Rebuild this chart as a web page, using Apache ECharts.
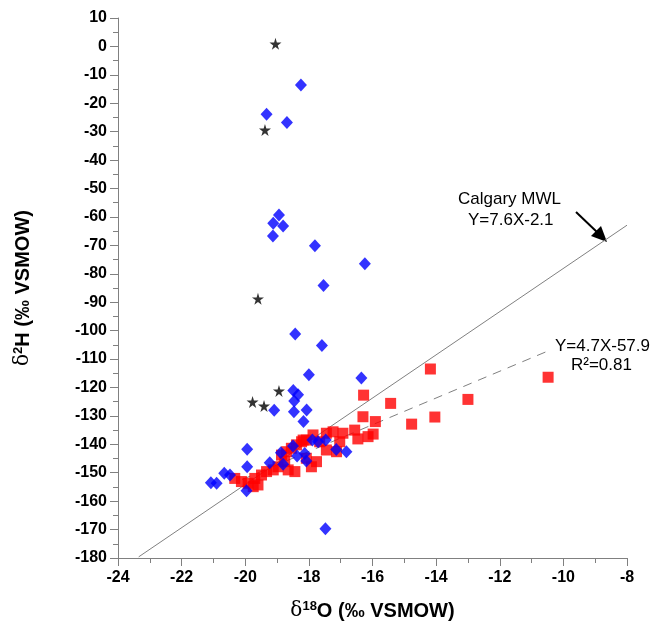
<!DOCTYPE html>
<html>
<head>
<meta charset="utf-8">
<script src="https://cdn.jsdelivr.net/npm/echarts@6/dist/echarts.min.js"></script>
<style>
  html, body { margin: 0; padding: 0; background: #fff; }
  #main { width: 650px; height: 629px; }
</style>
</head>
<body>
<div id="main"></div>
<script>
// datos: [d18O, d2H]
var snowStars = [
  [-19.05, 0.9], [-19.38, -29.4], [-19.60, -88.8], [-18.94, -121.2],
  [-19.77, -125.1], [-19.41, -126.5]
];

var blueDiamonds = [
  [-18.25, -13.6], [-19.33, -23.9], [-18.69, -26.8], [-18.94, -59.3],
  [-19.12, -62.2], [-18.81, -63.2], [-19.13, -66.7], [-17.81, -70.1],
  [-16.24, -76.5], [-17.54, -84.1], [-18.43, -101.2], [-17.59, -105.2],
  [-18.0, -115.5], [-16.35, -116.7], [-18.49, -121.1], [-18.34, -122.6],
  [-18.46, -124.8], [-19.09, -128.0], [-18.47, -128.5], [-18.07, -127.9],
  [-18.17, -132.0], [-19.94, -141.7], [-19.94, -147.9], [-21.08, -153.5],
  [-20.90, -153.7], [-20.66, -150.2], [-20.48, -150.8], [-19.96, -156.3],
  [-19.23, -146.5], [-18.88, -143.0], [-18.81, -147.0], [-18.50, -140.6],
  [-18.37, -144.1], [-18.08, -145.9], [-18.13, -143.2], [-17.89, -138.5],
  [-17.71, -139.1], [-17.47, -138.5], [-17.14, -141.8], [-16.82, -142.6],
  [-17.48, -169.7]
];

var redSquares = [
  [-16.28, -122.7], [-16.30, -130.3], [-15.91, -132.0], [-14.18, -113.5],
  [-15.43, -125.6], [-13.0, -124.2], [-10.48, -116.4], [-14.77, -132.9],
  [-14.04, -130.4], [-15.98, -136.4], [-20.33, -152.0], [-20.12, -153.1],
  [-19.91, -153.7], [-19.75, -154.9], [-19.70, -152.0], [-19.49, -150.8],
  [-19.33, -149.6], [-19.12, -149.0], [-18.97, -147.9], [-18.86, -143.8],
  [-18.70, -142.6], [-18.55, -141.4], [-18.39, -140.2], [-18.23, -139.1],
  [-18.08, -138.5], [-18.65, -149.0], [-18.44, -149.6], [-19.60, -154.3],
  [-18.76, -146.1], [-16.56, -135.0], [-16.14, -137.3], [-16.46, -138.1],
  [-16.93, -136.1], [-17.24, -135.6], [-17.45, -136.1], [-17.03, -139.1],
  [-17.13, -142.6], [-17.45, -142.0], [-17.76, -146.1], [-17.92, -147.9],
  [-18.08, -144.9], [-17.66, -139.1], [-17.87, -136.7], [-18.18, -138.5]
];

// extremos de las rectas
var mwlLine = [[-23.35, -179.6], [-8, -62.9]];
var fitLine = [[-20.1, -152.4], [-10.45, -107.0]];

var xTicks = [-24, -22, -20, -18, -16, -14, -12, -10, -8];
var yTicks = [10, 0, -10, -20, -30, -40, -50, -60, -70, -80, -90, -100,
  -110, -120, -130, -140, -150, -160, -170, -180];

var chartDom = document.getElementById('main');
var myChart = echarts.init(chartDom);
var option;

var starPath = 'path://M50,0 L61,35 L98,35 L68,57 L79,91 L50,70 L21,91 L32,57 L2,35 L39,35 Z';
var axisGray = '#808080';

var nameRich = {
  d: { fontFamily: 'DejaVu Serif', fontSize: 20, fontWeight: 'normal', color: '#000' },
  s: { fontFamily: 'Liberation Sans', fontSize: 13, fontWeight: 'bold', color: '#000', verticalAlign: 'top', lineHeight: 22 },
  b: { fontFamily: 'Liberation Sans', fontSize: 20, fontWeight: 'bold', color: '#000' }
};

option = {
  animation: false,
  backgroundColor: '#fff',
  grid: { left: 118, right: 23, top: 18, bottom: 71 },
  xAxis: {
    type: 'value',
    min: xTicks[0],
    max: xTicks[xTicks.length - 1],
    interval: 2,
    name: '{d|δ}{s|18}{b|O (‰ VSMOW)}',
    nameLocation: 'middle',
    nameGap: 42,
    nameTextStyle: { rich: nameRich },
    axisLine: { onZero: false, lineStyle: { color: axisGray, width: 1 } },
    axisTick: { inside: false, length: 8, lineStyle: { color: axisGray } },
    minorTick: { show: true, splitNumber: 2, length: 5, lineStyle: { color: axisGray } },
    splitLine: { show: false },
    axisLabel: { color: '#000', fontFamily: 'Liberation Sans', fontWeight: 'bold', fontSize: 16, margin: 12 }
  },
  yAxis: {
    type: 'value',
    min: yTicks[yTicks.length - 1],
    max: yTicks[0],
    interval: 10,
    name: '{d|δ}{s|2}{b|H (‰ VSMOW)}',
    nameLocation: 'middle',
    nameGap: 84,
    nameTextStyle: { rich: nameRich },
    axisLine: { onZero: false, lineStyle: { color: axisGray, width: 1 } },
    axisTick: { inside: false, length: 8, lineStyle: { color: axisGray } },
    minorTick: { show: true, splitNumber: 2, length: 5, lineStyle: { color: axisGray } },
    splitLine: { show: false },
    axisLabel: { color: '#000', fontFamily: 'Liberation Sans', fontWeight: 'bold', fontSize: 16, margin: 11 }
  },
  graphic: [
    { type: 'text', left: 458, top: 191, style: { text: 'Calgary MWL', font: '17px "Liberation Sans"', fill: '#000' } },
    { type: 'text', left: 468, top: 212, style: { text: 'Y=7.6X-2.1', font: '17px "Liberation Sans"', fill: '#000' } },
    { type: 'line', shape: { x1: 576, y1: 212, x2: 598, y2: 233 }, style: { stroke: '#000', lineWidth: 2 } },
    { type: 'polygon', shape: { points: [[607, 242], [591, 236], [601, 226]] }, style: { fill: '#000' } },
    { type: 'text', left: 555, top: 338, style: { text: 'Y=4.7X-57.9', font: '17px "Liberation Sans"', fill: '#000' } },
    { type: 'text', left: 571, top: 357, style: { text: 'R²=0.81', font: '17px "Liberation Sans"', fill: '#000' } }
  ],
  series: [
    {
      name: 'Calgary MWL',
      type: 'line',
      data: mwlLine,
      symbol: 'none',
      lineStyle: { color: '#808080', width: 1 },
      z: 1
    },
    {
      name: 'Ajuste',
      type: 'line',
      data: fitLine,
      symbol: 'none',
      lineStyle: { color: '#808080', width: 1, type: [9, 7] },
      z: 1
    },
    {
      name: 'Rojo',
      type: 'scatter',
      data: redSquares,
      symbol: 'rect',
      symbolSize: 11,
      itemStyle: { color: '#ff0000' },
      z: 2
    },
    {
      name: 'Azul',
      type: 'scatter',
      data: blueDiamonds,
      symbol: 'diamond',
      symbolSize: [12, 13],
      itemStyle: { color: '#0000ff' },
      z: 3
    },
    {
      name: 'Estrellas',
      type: 'scatter',
      data: snowStars,
      symbol: starPath,
      symbolSize: 12,
      itemStyle: { color: '#000' },
      z: 4
    }
  ]
};

option && myChart.setOption(option);
</script>
</body>
</html>
